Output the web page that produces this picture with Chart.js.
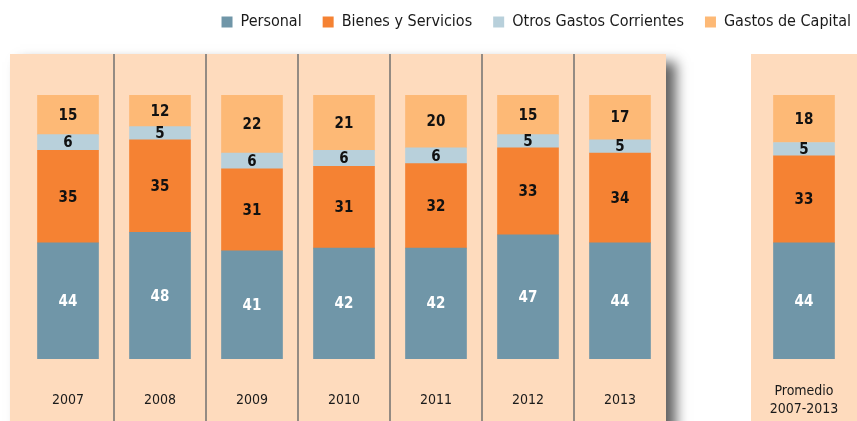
<!DOCTYPE html>
<html>
<head>
<meta charset="utf-8">
<script src="https://cdn.jsdelivr.net/npm/chart.js@4.4.1/dist/chart.umd.min.js"></script>
<style>
html,body{margin:0;padding:0;background:#fff;}
#wrap{width:857px;height:421px;}
</style>
</head>
<body>
<div id="wrap"><canvas id="c" width="857" height="421"></canvas></div>
<script>
const categories = ['2007','2008','2009','2010','2011','2012','2013','',['Promedio','2007-2013']];
const personal = [44,48,41,42,42,47,44,null,44];
const bienesServicios = [35,35,31,31,32,33,34,null,33];
const otrosGastos = [6,5,6,6,6,5,5,null,5];
const gastosCapital = [15,12,22,21,20,15,17,null,18];
const seriesNames = ['Personal','Bienes y Servicios','Otros Gastos Corrientes','Gastos de Capital'];

const FONT = '"DejaVu Sans Condensed", "Liberation Sans Narrow", "DejaVu Sans", sans-serif';
const colors = ['#7096a8','#f58233','#b8d0db','#fdb976'];
const panelColor = '#fedbbd';

const panels = {
  id: 'panels',
  beforeDraw(chart) {
    const {ctx, scales} = chart;
    const x = scales.x;
    const W = chart.width, H = chart.height;
    const top = 54;
    const yearCount = categories.indexOf('');
    const step = x.getPixelForValue(1) - x.getPixelForValue(0);
    const left = x.getPixelForValue(0) - step / 2 - 12;
    const right = x.getPixelForValue(yearCount - 1) + step / 2;
    ctx.save();
    ctx.fillStyle = '#fff';
    ctx.fillRect(0, 0, W, H);
    ctx.save();
    ctx.shadowColor = 'rgba(0,0,0,0.62)';
    ctx.shadowBlur = 12;
    ctx.shadowOffsetX = 10;
    ctx.shadowOffsetY = 8;
    ctx.fillStyle = panelColor;
    ctx.fillRect(left, top, right - left, H - top + 30);
    ctx.restore();
    ctx.fillStyle = panelColor;
    ctx.fillRect(left, top, right - left, H - top);
    ctx.strokeStyle = '#707070';
    ctx.lineWidth = 1.5;
    for (let i = 0; i < yearCount - 1; i++) {
      const bx = (x.getPixelForValue(i) + x.getPixelForValue(i + 1)) / 2;
      ctx.beginPath();
      ctx.moveTo(bx, top);
      ctx.lineTo(bx, H);
      ctx.stroke();
    }
    const pc = x.getPixelForValue(categories.length - 1);
    ctx.fillStyle = panelColor;
    ctx.fillRect(pc - 53, top, W - (pc - 53), H - top);
    ctx.restore();
  }
};

const valueLabels = {
  id: 'valueLabels',
  afterDatasetsDraw(chart) {
    const ctx = chart.ctx;
    chart.data.datasets.forEach((ds, di) => {
      const meta = chart.getDatasetMeta(di);
      meta.data.forEach((el, i) => {
        const v = ds.data[i];
        if (v == null) return;
        const p = el.getProps(['x', 'y', 'base'], true);
        ctx.save();
        ctx.font = 'bold 15px ' + FONT;
        ctx.fillStyle = di === 0 ? '#ffffff' : '#111111';
        ctx.textAlign = 'center';
        ctx.textBaseline = 'middle';
        ctx.fillText(String(v), p.x, (p.y + p.base) / 2 + 1);
        ctx.restore();
      });
    });
  }
};

const seriesData = [personal, bienesServicios, otrosGastos, gastosCapital];

new Chart(document.getElementById('c'), {
  type: 'bar',
  data: {
    labels: categories,
    datasets: seriesData.map((d, i) => ({
      label: seriesNames[i],
      data: d,
      backgroundColor: colors[i],
      borderWidth: 0,
      barThickness: 61,
      xAxisID: 'x',
      yAxisID: 'y'
    }))
  },
  options: {
    responsive: false,
    animation: false,
    devicePixelRatio: 1,
    layout: { padding: { left: 22, right: -15, top: -7, bottom: 0 } },
    plugins: {
      tooltip: { enabled: false },
      legend: {
        position: 'top',
        align: 'end',
        labels: {
          boxWidth: 11,
          boxHeight: 11,
          padding: 21,
          color: '#1a1a1a',
          font: { family: FONT, size: 16 }
        }
      }
    },
    scales: {
      x: {
        position: 'bottom',
        stacked: true,
        grid: { display: false, drawTicks: false },
        border: { display: false },
        ticks: {
          color: '#1a1a1a',
          font: { family: FONT, size: 14, lineHeight: 1.3 },
          padding: 32,
          crossAlign: 'center',
          maxRotation: 0,
          autoSkip: false
        },
        afterFit(s) { s.height = 62; s.paddingLeft = 0; s.paddingRight = 0; }
      },
      xTop: {
        type: 'category',
        position: 'top',
        display: true,
        grid: { display: false, drawTicks: false },
        border: { display: false },
        ticks: { display: false },
        afterFit(s) { s.height = 55; s.paddingLeft = 0; s.paddingRight = 0; }
      },
      y: {
        position: 'right',
        stacked: true,
        min: 0,
        max: 100,
        display: true,
        grid: { display: false, drawTicks: false },
        border: { display: false },
        ticks: { display: false },
        afterFit(s) { s.width = 22; }
      }
    }
  },
  plugins: [panels, valueLabels]
});
</script>
</body>
</html>
